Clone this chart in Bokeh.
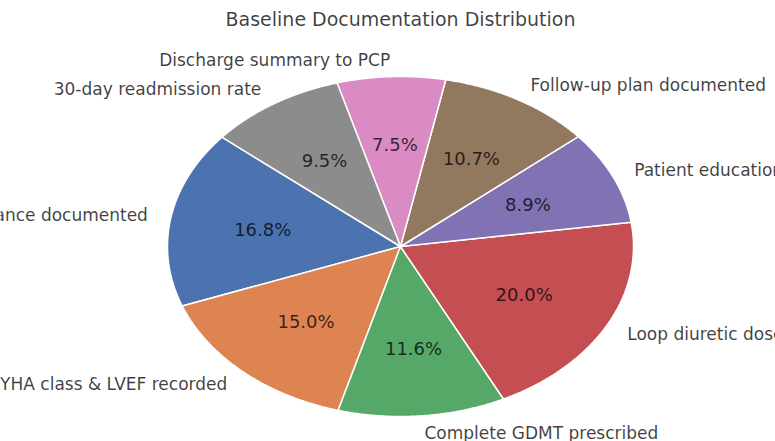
import numpy as np
from bokeh.plotting import figure
from bokeh.models import ColumnDataSource
from bokeh.core.properties import value
from bokeh.embed import file_html
from bokeh.resources import INLINE

# Documentation categories, in drawing order (counter-clockwise from the start angle)
categories = [
    "Fluid balance documented",
    "NYHA class & LVEF recorded",
    "Complete GDMT prescribed",
    "Loop diuretic dose adjusted",
    "Patient education provided",
    "Follow-up plan documented",
    "Discharge summary to PCP",
    "30-day readmission rate",
]
shares = [16.8, 15.0, 11.6, 20.0, 8.9, 10.7, 7.5, 9.5]
colors = ["#4C72B0", "#DD8452", "#55A868", "#C44E52",
          "#8172B3", "#937860", "#DA8BC3", "#8C8C8C"]
title_text = "Baseline Documentation Distribution"

# Layout: canvas size, pie centre and radii in pixels
W, H = 775, 441
CX, CY = 400, 246
RX, RY = 233, 170
START_DEG = 140.0
LABEL_DIST = 1.1
PCT_DIST = 0.6
FONT = "DejaVu Sans"

# Unit-circle data space, stretched so the pie fills an ellipse
x_range = ((0 - CX) / RX, (W - CX) / RX)
y_range = ((CY - H) / RY, (CY - 0) / RY)

p = figure(width=W, height=H, x_range=x_range, y_range=y_range,
           output_backend="svg", toolbar_location=None, min_border=0)
p.axis.visible = False
p.grid.visible = False
p.outline_line_color = None
p.background_fill_color = "white"
p.border_fill_color = "white"

vals = np.array(shares, dtype=float)
fracs = vals / vals.sum()
ends = START_DEG + 360.0 * np.cumsum(fracs)
starts = ends - 360.0 * fracs

xs, ys = [], []
for a0, a1 in zip(starts, ends):
    t = np.radians(np.linspace(a0, a1, 120))
    xs.append(np.concatenate([[0.0], np.cos(t), [0.0]]))
    ys.append(np.concatenate([[0.0], np.sin(t), [0.0]]))

slices = ColumnDataSource(dict(xs=xs, ys=ys, color=colors, name=categories))
p.patches("xs", "ys", source=slices, fill_color="color",
          line_color="white", line_width=1.5)

mid = np.radians((starts + ends) / 2.0)
cosm, sinm = np.cos(mid), np.sin(mid)

# Percentages inside the slices
pct_src = ColumnDataSource(dict(
    x=PCT_DIST * cosm, y=PCT_DIST * sinm,
    t=[f"{v:.1f}%" for v in fracs * 100]))
p.text("x", "y", text="t", source=pct_src, text_align="center",
       text_baseline="middle", text_font=value(FONT),
       text_font_size="18px", text_color="black", text_alpha=0.75)

# Category labels outside the pie
lab_src = ColumnDataSource(dict(
    x=LABEL_DIST * cosm, y=LABEL_DIST * sinm, t=categories,
    align=["left" if c > 0 else "right" for c in cosm]))
p.text("x", "y", text="t", source=lab_src, text_align="align",
       text_baseline="middle", text_font=value(FONT),
       text_font_size="17px", text_color="black", text_alpha=0.75)

# Title
p.text(x=[0.0], y=[(CY - 18) / RY], text=[title_text], text_align="center",
       text_baseline="middle", text_font=value(FONT),
       text_font_size="19px", text_color="black", text_alpha=0.75)

open("out.html", "w").write(file_html(p, INLINE))
